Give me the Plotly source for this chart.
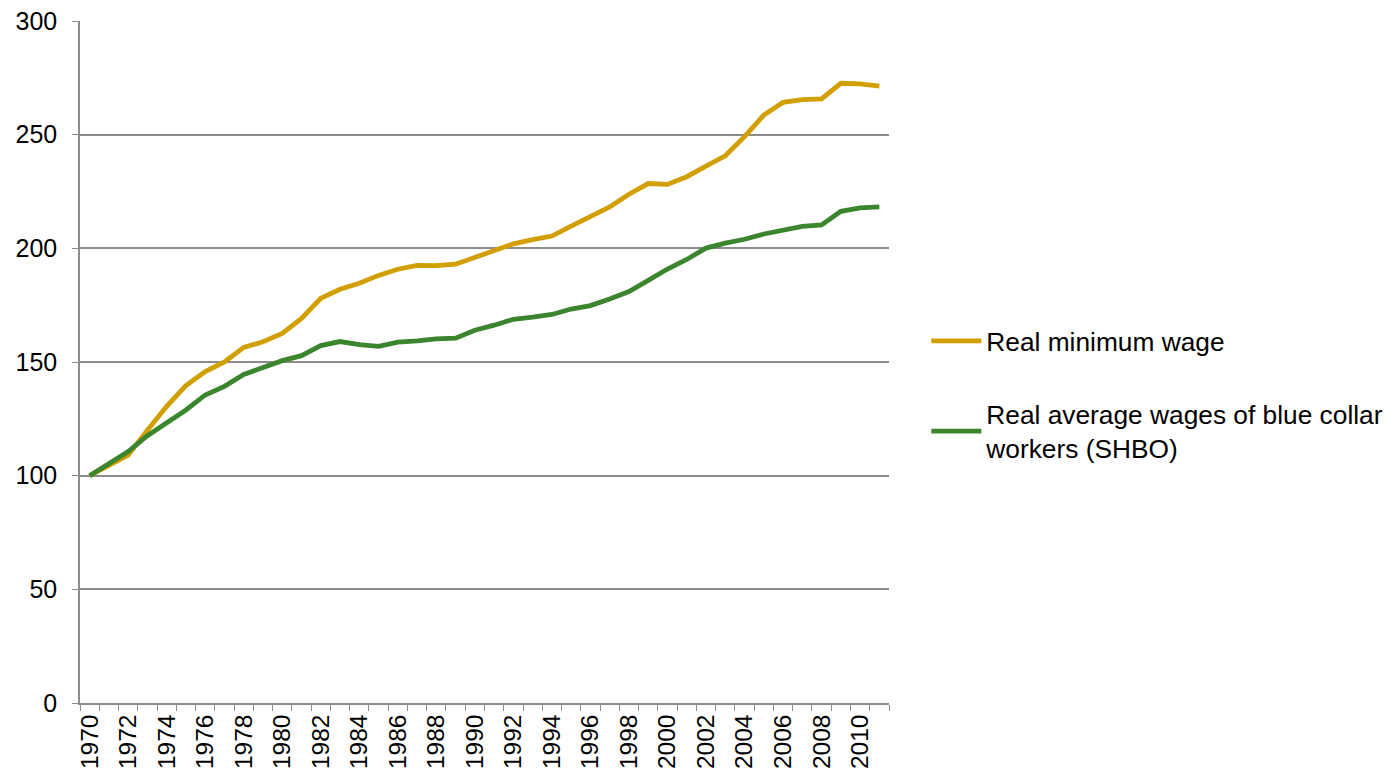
import plotly.graph_objects as go

years = list(range(1970, 2012))
min_wage = [100, 104.3, 109, 120, 130.5, 139.6, 145.8, 150, 156.4, 158.9,
            162.6, 169.2, 178, 182, 184.6, 188.1, 190.8, 192.5, 192.4, 193,
            196, 199, 202, 203.8, 205.4, 209.8, 213.8, 218.2, 223.8, 228.5,
            228.1, 231.5, 236.2, 240.7, 249.1, 258.6, 264.2, 265.4, 265.7, 272.6,
            272.3, 271.4]
blue_collar = [100, 105.1, 110.6, 117.6, 123, 128.9, 135.5, 139.3, 144.5, 147.4,
               150.6, 152.8, 157.2, 159, 157.6, 156.9, 158.7, 159.3, 160.2, 160.5,
               164, 166.2, 168.8, 169.7, 170.9, 173.3, 174.8, 177.7, 181, 185.9,
               190.9, 195.1, 200.1, 202.3, 204, 206.3, 208.2, 209.7, 210.3, 216.3,
               217.8, 218.2]
names = ["Real minimum wage", "Real average wages of blue collar<br>workers (SHBO)"]
tick_years = list(range(1970, 2011, 2))

fig = go.Figure()
fig.add_trace(go.Scatter(x=years, y=min_wage, mode="lines", name=names[0],
                         line=dict(color="#D19F00", width=4.8), legendgroup="a"))
fig.add_trace(go.Scatter(x=years, y=blue_collar, mode="lines", name=names[1],
                         line=dict(color="#3A852E", width=4.8), legendgroup="b"))

fig.update_layout(
    width=1394, height=779,
    margin=dict(l=80, r=505, t=21, b=76),
    plot_bgcolor="white", paper_bgcolor="white",
    font=dict(family="Liberation Sans, Arial, sans-serif", size=25, color="black"),
    legend=dict(xref="container", yref="container", x=0.6645, xanchor="left",
                y=0.4933, yanchor="middle",
                font=dict(size=26.3), tracegroupgap=36, itemwidth=50,
                bgcolor="rgba(0,0,0,0)"),
    xaxis=dict(range=[1969.5, 2011.5], tickmode="array", tickvals=tick_years,
               ticktext=[str(y) for y in tick_years], tickangle=-90,
               ticks="", showgrid=False, showline=True, linecolor="#8C8C8C",
               linewidth=1.5, tickfont=dict(size=24.5), automargin=False,
               minor=dict(tickmode="linear", tick0=1969.5, dtick=1, ticks="outside",
                          ticklen=6, tickcolor="#8C8C8C", showgrid=False)),
    yaxis=dict(range=[0, 300], dtick=50, showgrid=True, gridcolor="#8C8C8C",
               gridwidth=1.5, showline=True, linecolor="#8C8C8C", linewidth=1.5,
               ticks="outside", ticklen=6, tickcolor="#8C8C8C", zeroline=False,
               tickfont=dict(size=25), automargin=False, ticklabelstandoff=10),
)
fig.write_html("out.html")
